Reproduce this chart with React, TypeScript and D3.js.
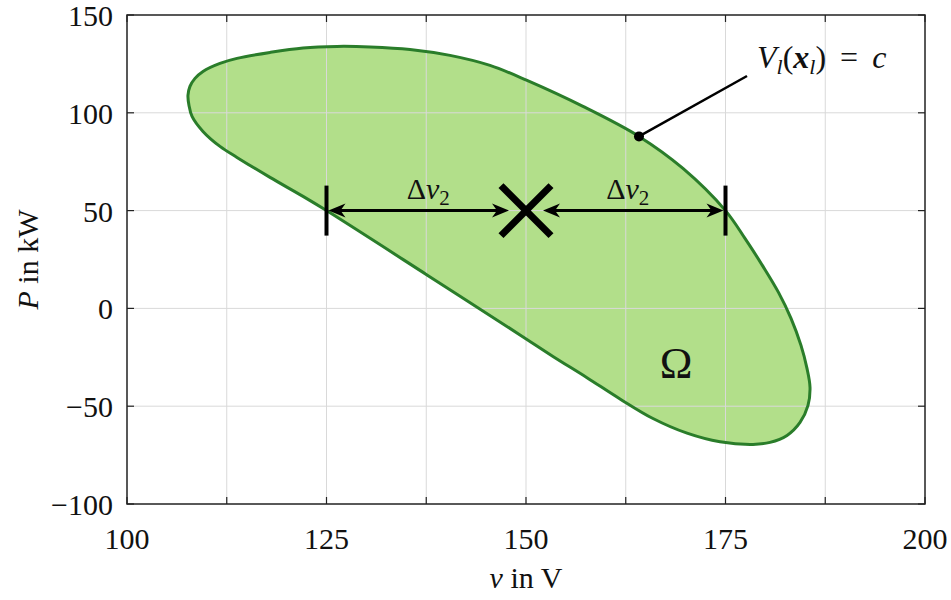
import React from "react";
import * as d3 from "d3";

// Level-set boundary V_l(x_l) = c, traced as (v, P) pairs
const boundaryV = [
  107.64, 107.89, 108.52, 109.52, 111.65, 113.78, 117.92, 122.06, 126.32, 130.45,
  135.46, 140.48, 145.49, 150.13, 157.14, 164.16, 169.67, 175.0, 177.44, 179.7,
  181.64, 183.21, 184.46, 185.21, 185.59, 185.34, 184.34, 182.71, 180.58, 178.45,
  174.31, 170.18, 165.91, 161.78, 157.64, 153.38, 149.25, 137.59, 125.0, 122.06,
  117.92, 113.78, 111.65, 109.52, 108.15, 107.77,
];
const boundaryP = [
  108.9, 113.5, 117.59, 121.17, 125.26, 127.81, 130.88, 133.18, 133.95, 133.69,
  132.41, 129.35, 124.23, 116.56, 103.27, 87.93, 71.57, 50.0, 35.79, 21.47,
  8.18, -5.11, -18.92, -30.67, -40.39, -49.59, -58.28, -64.93, -68.51, -69.53,
  -68.2, -63.8, -56.3, -46.3, -35.4, -24.54, -13.55, 17.13, 50.0, 57.26,
  66.97, 77.2, 82.82, 90.49, 98.16, 103.78,
];

// Equilibrium and the Δv2 interval ends
const equilibrium = { v: 150, p: 50 };
const intervalEnds = [125, 175];
const markedPoint = { v: 164.16, p: 87.93 };

const xTicksMajor = [100, 125, 150, 175, 200];
const xTicksAll = [100, 112.5, 125, 137.5, 150, 162.5, 175, 187.5, 200];
const yTicks = [-100, -50, 0, 50, 100, 150];

const W = 951;
const H = 600;
const FONT =
  "'Times New Roman', 'Liberation Serif', 'DejaVu Serif', 'Noto Serif', Times, serif";

export default function App() {
  const x = d3.scaleLinear().domain([100, 200]).range([127, 925]);
  const y = d3.scaleLinear().domain([-100, 150]).range([504, 15]);

  const pts: [number, number][] = boundaryV.map((v, i) => [v, boundaryP[i]]);
  const path = d3
    .line<[number, number]>()
    .x((d) => x(d[0]))
    .y((d) => y(d[1]))
    .curve(d3.curveCatmullRomClosed.alpha(0.5))(pts) as string;

  const [x0, x1] = x.range();
  const [y0, y1] = y.range(); // y0 bottom, y1 top
  const tick = 7;
  const ex = x(equilibrium.v);
  const ey = y(equilibrium.p);
  const xL = x(intervalEnds[0]);
  const xR = x(intervalEnds[1]);
  const gridColor = "#d9d9d9";
  const fs = 30;
  const txt = { fontFamily: FONT };

  // Arrow head with its tip at tx, pointing right (dir = 1) or left (dir = -1)
  const head = (tx: number, dir: number) => {
    const len = 17;
    const half = 7;
    const back = 5;
    return `M${tx},${ey} L${tx - dir * len},${ey - half} L${tx - dir * (len - back)},${ey} L${tx - dir * len},${ey + half} Z`;
  };

  const gapL = ex - 17;
  const gapR = ex + 17;

  return (
    <svg
      width={W}
      height={H}
      style={{ position: "absolute", left: 0, top: 0, background: "#fff" }}
    >
      {/* region Ω */}
      <path d={path} fill="#b2df8a" stroke="none" />

      {/* grid */}
      {xTicksAll
        .filter((t) => t > 100 && t < 200)
        .map((t) => (
          <line key={"gx" + t} x1={x(t)} x2={x(t)} y1={y0} y2={y1} stroke={gridColor} strokeWidth={1} />
        ))}
      {yTicks
        .filter((t) => t > -100 && t < 150)
        .map((t) => (
          <line key={"gy" + t} x1={x0} x2={x1} y1={y(t)} y2={y(t)} stroke={gridColor} strokeWidth={1} />
        ))}

      {/* region outline */}
      <path d={path} fill="none" stroke="#2a7d2a" strokeWidth={3} />

      {/* frame and inward ticks */}
      <rect x={x0} y={y1} width={x1 - x0} height={y0 - y1} fill="none" stroke="#222" strokeWidth={1.5} />
      {xTicksAll.map((t) => (
        <g key={"tx" + t}>
          <line x1={x(t)} x2={x(t)} y1={y0} y2={y0 - tick} stroke="#222" strokeWidth={1.2} />
          <line x1={x(t)} x2={x(t)} y1={y1} y2={y1 + tick} stroke="#222" strokeWidth={1.2} />
        </g>
      ))}
      {yTicks.map((t) => (
        <g key={"ty" + t}>
          <line x1={x0} x2={x0 + tick} y1={y(t)} y2={y(t)} stroke="#222" strokeWidth={1.2} />
          <line x1={x1} x2={x1 - tick} y1={y(t)} y2={y(t)} stroke="#222" strokeWidth={1.2} />
        </g>
      ))}

      {/* tick labels */}
      {xTicksMajor.map((t) => (
        <text key={"lx" + t} x={x(t)} y={y0 + 45} textAnchor="middle" fontSize={fs} fill="#111" style={txt}>
          {t}
        </text>
      ))}
      {yTicks.map((t) => (
        <text key={"ly" + t} x={x0 - 14} y={y(t) + 11} textAnchor="end" fontSize={fs} fill="#111" style={txt}>
          {t < 0 ? "\u2212" + Math.abs(t) : t}
        </text>
      ))}

      {/* axis titles */}
      <text x={(x0 + x1) / 2} y={588} textAnchor="middle" fontSize={fs} fill="#111" style={txt}>
        <tspan fontStyle="italic">v</tspan> in V
      </text>
      <text
        transform={`translate(38, ${(y0 + y1) / 2}) rotate(-90)`}
        textAnchor="middle"
        fontSize={fs}
        fill="#111"
        style={txt}
      >
        <tspan fontStyle="italic">P</tspan> in kW
      </text>

      {/* Δv2 interval bars */}
      {[xL, xR].map((px, i) => (
        <line key={"bar" + i} x1={px} x2={px} y1={ey - 25} y2={ey + 25} stroke="#000" strokeWidth={4} />
      ))}

      {/* double arrows */}
      <line x1={xL + 6} x2={gapL - 8} y1={ey} y2={ey} stroke="#000" strokeWidth={3} />
      <path d={head(xL + 2, -1)} fill="#000" />
      <path d={head(gapL, 1)} fill="#000" />
      <line x1={gapR + 8} x2={xR - 6} y1={ey} y2={ey} stroke="#000" strokeWidth={3} />
      <path d={head(gapR, -1)} fill="#000" />
      <path d={head(xR - 2, 1)} fill="#000" />

      {/* equilibrium marker */}
      <g stroke="#000" strokeWidth={7} strokeLinecap="butt">
        <line x1={ex - 25} x2={ex + 25} y1={ey - 25} y2={ey + 25} />
        <line x1={ex - 25} x2={ex + 25} y1={ey + 25} y2={ey - 25} />
      </g>

      {/* Δv2 labels */}
      {[(xL + ex) / 2, (ex + xR) / 2].map((cx, i) => (
        <text key={"dv" + i} x={cx + 2} y={ey - 12} textAnchor="middle" fontSize={fs} fill="#111" style={txt}>
          Δ<tspan fontStyle="italic">v</tspan>
          <tspan fontSize={21} dy={6}>2</tspan>
        </text>
      ))}

      {/* Ω label */}
      <text x={x(168.8)} y={y(-35.5)} textAnchor="middle" fontSize={44} fill="#111" style={txt}>
        Ω
      </text>

      {/* level-set annotation */}
      <line
        x1={x(markedPoint.v)}
        y1={y(markedPoint.p)}
        x2={747}
        y2={76}
        stroke="#000"
        strokeWidth={2.5}
      />
      <circle cx={x(markedPoint.v)} cy={y(markedPoint.p)} r={5} fill="#000" />
      <text x={757} y={68} fontSize={32} fill="#111" style={txt}>
        <tspan fontStyle="italic">V</tspan>
        <tspan fontStyle="italic" fontSize={22} dy={6}>l</tspan>
        <tspan dy={-6}>(</tspan>
        <tspan fontStyle="italic" fontWeight="bold">x</tspan>
        <tspan fontStyle="italic" fontSize={22} dy={6}>l</tspan>
        <tspan dy={-6}>)</tspan>
        <tspan dx={14}>=</tspan>
        <tspan dx={14} fontStyle="italic">c</tspan>
      </text>
    </svg>
  );
}
